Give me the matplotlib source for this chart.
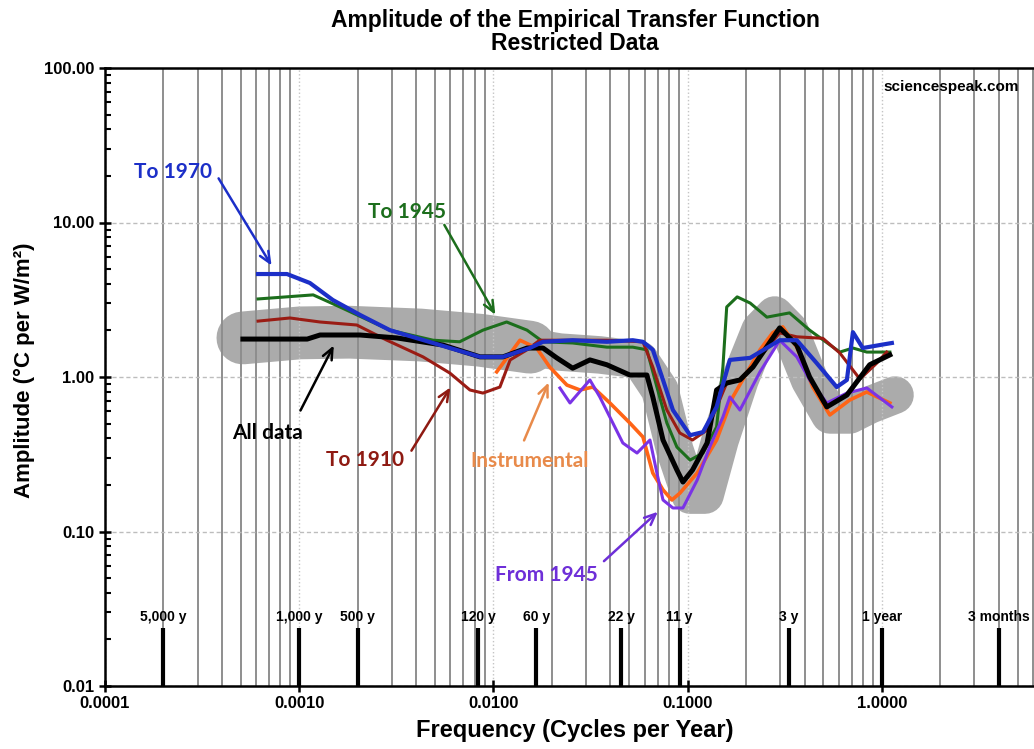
import matplotlib
matplotlib.use("Agg")
import matplotlib.pyplot as plt
from matplotlib.ticker import LogLocator, NullFormatter

# ---- series (frequency in cycles/year, amplitude in degC per W/m^2) ----
all_freq = [0.000513, 0.0011, 0.00128, 0.00206, 0.00318, 0.0055, 0.00853, 0.0112,
            0.0149, 0.018, 0.0212, 0.0256, 0.0314, 0.0384, 0.0504, 0.0617, 0.0662,
            0.0747, 0.0881, 0.0946, 0.106, 0.126, 0.141, 0.159, 0.186, 0.217, 0.298,
            0.365, 0.425, 0.521, 0.661, 0.866, 1.1]
all_amp = [1.76, 1.76, 1.87, 1.87, 1.79, 1.61, 1.35, 1.35,
           1.54, 1.54, 1.33, 1.14, 1.29, 1.2, 1.03, 1.03, 0.743,
           0.391, 0.25, 0.209, 0.25, 0.374, 0.824, 0.914, 0.957, 1.16, 2.08,
           1.61, 1.0, 0.64, 0.764, 1.2, 1.39]

to1970_freq = [0.000614, 0.000865, 0.001135, 0.00149, 0.00206, 0.00293, 0.00489, 0.00853,
               0.0112, 0.0154, 0.018, 0.0256, 0.0384, 0.0522, 0.0589, 0.0662, 0.0747,
               0.084, 0.103, 0.12, 0.141, 0.165, 0.21, 0.298, 0.365, 0.462, 0.586,
               0.661, 0.71, 0.798, 0.977, 1.127]
to1970_amp = [4.64, 4.64, 4.06, 3.15, 2.52, 2.01, 1.66, 1.35,
              1.35, 1.54, 1.69, 1.73, 1.69, 1.73, 1.69, 1.5, 0.957,
              0.611, 0.42, 0.44, 0.64, 1.29, 1.33, 1.73, 1.73, 1.23, 0.861,
              0.957, 1.95, 1.54, 1.61, 1.66]

to1945_freq = [0.000614, 0.00118, 0.00162, 0.00293, 0.00489, 0.0067, 0.00883, 0.0117,
               0.0149, 0.018, 0.0256, 0.0384, 0.0522, 0.0617, 0.0695, 0.0782, 0.0881,
               0.103, 0.12, 0.141, 0.152, 0.159, 0.18, 0.21, 0.256, 0.335, 0.425,
               0.608, 0.71, 0.837, 1.1]
to1945_amp = [3.2, 3.4, 2.84, 2.01, 1.73, 1.69, 2.01, 2.27,
              2.01, 1.69, 1.66, 1.56, 1.56, 1.5, 0.861, 0.504, 0.352,
              0.29, 0.322, 0.475, 1.16, 2.84, 3.3, 3.01, 2.44, 2.6, 2.01,
              1.45, 1.54, 1.45, 1.45]

to1910_freq = [0.000614, 0.000896, 0.00128, 0.00198, 0.00283, 0.00434, 0.00597, 0.00757,
               0.00883, 0.0108, 0.0122, 0.0149, 0.0173, 0.0256, 0.0384, 0.0589, 0.0662,
               0.0782, 0.0912, 0.106, 0.126, 0.159, 0.186, 0.236, 0.298, 0.365, 0.497,
               0.608, 0.771, 0.942, 1.06]
to1910_amp = [2.3, 2.41, 2.27, 2.17, 1.73, 1.35, 1.06, 0.824,
              0.787, 0.861, 1.29, 1.5, 1.73, 1.73, 1.73, 1.69, 1.16,
              0.611, 0.434, 0.391, 0.454, 0.914, 0.957, 1.35, 1.93, 1.82, 1.78,
              1.43, 0.97, 1.23, 1.45]

instr_freq = [0.0104, 0.0137, 0.0167, 0.0195, 0.0239, 0.0279, 0.0325, 0.0398, 0.0504,
              0.0589, 0.0662, 0.0747, 0.083, 0.0912, 0.112, 0.141, 0.171, 0.236, 0.274,
              0.309, 0.365, 0.441, 0.54, 0.684, 0.837, 1.1]
instr_amp = [1.08, 1.73, 1.54, 1.16, 0.887, 0.824, 0.861, 0.679, 0.504,
             0.409, 0.239, 0.186, 0.16, 0.177, 0.239, 0.391, 0.743, 1.5, 1.93,
             2.11, 1.56, 0.861, 0.568, 0.71, 0.8, 0.679]

from1945_freq = [0.022, 0.0248, 0.0314, 0.0353, 0.0464, 0.0549, 0.064, 0.0695, 0.0747,
                 0.084, 0.0946, 0.112, 0.13, 0.152, 0.165, 0.186, 0.236, 0.298, 0.365,
                 0.425, 0.521, 0.661, 0.837, 1.127]
from1945_amp = [0.849, 0.679, 0.957, 0.743, 0.374, 0.322, 0.391, 0.239, 0.16,
                0.142, 0.142, 0.215, 0.352, 0.551, 0.743, 0.611, 1.08, 1.73, 1.35,
                0.957, 0.679, 0.787, 0.849, 0.64]

# broad grey highlight following the overall response
band_wide_freq = [0.000513, 0.00101, 0.00182, 0.0042, 0.00853, 0.0154]
band_wide_amp = [1.79, 1.93, 1.95, 1.87, 1.73, 1.56]
band_freq = [0.00853, 0.0154, 0.022, 0.0353, 0.0568, 0.072, 0.0859, 0.103, 0.123,
             0.147, 0.186, 0.236, 0.281, 0.335, 0.425, 0.54, 0.684, 0.866, 1.17]
band_amp = [1.73, 1.56, 1.45, 1.39, 1.29, 0.824, 0.337, 0.172, 0.172,
            0.391, 0.957, 2.01, 2.52, 2.01, 0.957, 0.568, 0.568, 0.659, 0.764]

# reference periods marked along the bottom
period_labels = ["5,000 y", "1,000 y", "500 y", "120 y", "60 y", "22 y", "11 y", "3 y", "1 year", "3 months"]
period_years = [5000, 1000, 500, 120, 60, 22, 11, 3, 1, 0.25]

xtick_vals = [0.0001, 0.001, 0.01, 0.1, 1.0]
xtick_labels = ["0.0001", "0.0010", "0.0100", "0.1000", "1.0000"]
ytick_vals = [0.01, 0.1, 1, 10, 100]
ytick_labels = ["0.01", "0.10", "1.00", "10.00", "100.00"]

BOLD = dict(family=["Liberation Sans", "DejaVu Sans"], weight="bold")
NOTE = dict(family=["Lato", "DejaVu Sans"], weight="bold", fontsize=15)

fig = plt.figure(figsize=(10.34, 7.49), dpi=100)
ax = fig.add_axes([105 / 1034, 63 / 749, 971 / 1034, 618 / 749])
ax.set_xscale("log")
ax.set_yscale("log")
ax.set_xlim(1e-4, 10)
ax.set_ylim(0.01, 100)

# grid: solid grey minor verticals, faint dotted decades, dashed horizontals
ax.xaxis.set_minor_locator(LogLocator(base=10, subs=range(2, 10), numticks=20))
ax.yaxis.set_minor_locator(LogLocator(base=10, subs=range(2, 10), numticks=20))
ax.xaxis.set_minor_formatter(NullFormatter())
ax.yaxis.set_minor_formatter(NullFormatter())
ax.set_axisbelow("line")
ax.grid(True, axis="x", which="minor", color="#8e8e8e", lw=1.4, zorder=1.5)
ax.grid(True, axis="x", which="major", color="#c4c4c4", lw=1.0, ls=":", zorder=1.5)
ax.grid(True, axis="y", which="major", color="#bdbdbd", lw=1.0, ls=(0, (3, 2)), zorder=1.5)

for s in ["top", "left", "bottom"]:
    ax.spines[s].set_linewidth(1.8)
ax.spines["right"].set_visible(False)

ax.set_xticks(xtick_vals)
ax.set_xticklabels(xtick_labels, **BOLD, fontsize=12)
ax.set_yticks(ytick_vals)
ax.set_yticklabels(ytick_labels, **BOLD, fontsize=12)
ax.tick_params(which="major", direction="inout", length=8, width=1.8)
ax.tick_params(which="minor", direction="in", length=4, width=1.5)
ax.tick_params(axis="x", which="minor", length=0)

# grey highlight
ax.plot(band_wide_freq, band_wide_amp, color="#ababab", lw=38, solid_capstyle="round",
        solid_joinstyle="round", zorder=1)
ax.plot(band_freq, band_amp, color="#ababab", lw=27, solid_capstyle="round",
        solid_joinstyle="round", zorder=1)

# response curves
ax.plot(to1945_freq, to1945_amp, color="#1c6e1c", lw=2.2, zorder=3)
ax.plot(to1910_freq, to1910_amp, color="#9a1c14", lw=2.2, zorder=3)
ax.plot(instr_freq, instr_amp, color="#ff6416", lw=2.6, zorder=3)
ax.plot(from1945_freq, from1945_amp, color="#7a33e6", lw=2.2, zorder=3)
ax.plot(all_freq, all_amp, color="black", lw=3.6, zorder=3)
ax.plot(to1970_freq, to1970_amp, color="#1c2fc8", lw=3.0, zorder=3)

# period markers
period_freq = [1.0 / p for p in period_years]
ax.vlines(period_freq, 0.01, 0.0238, color="black", lw=3, zorder=2)
for f, lab in zip(period_freq, period_labels):
    ax.text(f, 0.028, lab, ha="center", va="center", fontsize=10,
            family=["Liberation Sans", "DejaVu Sans"], weight="bold", zorder=4)

# curve labels with arrows
arrow_kw = dict(arrowstyle="->, head_width=0.35, head_length=0.8", lw=1.8)
notes = [
    ("To 1970", "#1c2fc8", (0.000224, 21.2), (0.000378, 20.0), (0.000733, 5.08)),
    ("To 1945", "#1c6e1c", (0.00359, 11.7), (0.0055, 10.0), (0.0104, 2.44)),
    ("All data", "black", (0.00069, 0.434), (0.001, 0.585), (0.00153, 1.66)),
    ("To 1910", "#8e1a12", (0.00218, 0.29), (0.00372, 0.322), (0.00611, 0.887)),
    ("Instrumental", "#e88a4a", (0.0154, 0.286), (0.0142, 0.374), (0.0195, 0.957)),
    ("From 1945", "#6e2fd8", (0.0188, 0.0522), (0.0362, 0.0625), (0.072, 0.138)),
]
for txt, col, tpos, tail, head in notes:
    ax.text(tpos[0], tpos[1], txt, color=col, ha="center", va="center", zorder=5, **NOTE)
    ax.annotate("", xy=head, xytext=tail,
                arrowprops=dict(color=col, **arrow_kw), zorder=5)

fig.text(951 / 1034, 1 - 87 / 749, "sciencespeak.com", ha="center", va="center",
         fontsize=11, **BOLD)

fig.text(575 / 1034, 1 - 20 / 749, "Amplitude of the Empirical Transfer Function",
         ha="center", va="center", fontsize=16.5, **BOLD)
fig.text(575 / 1034, 1 - 44 / 749, "Restricted Data",
         ha="center", va="center", fontsize=16.5, **BOLD)

fig.text(575 / 1034, 1 - 731 / 749, "Frequency (Cycles per Year)",
         ha="center", va="center", fontsize=17, **BOLD)
fig.text(24 / 1034, 1 - 370 / 749, "Amplitude (\u00b0C per W/m\u00b2)", rotation=90,
         ha="center", va="center", fontsize=16, **BOLD)

fig.savefig("out.png", dpi=100)
